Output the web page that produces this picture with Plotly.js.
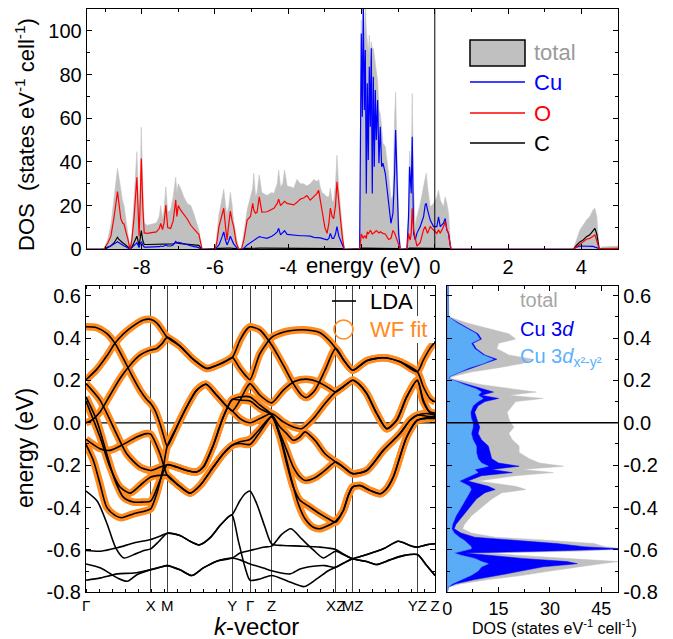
<!DOCTYPE html>
<html><head><meta charset="utf-8">
<script src="https://cdn.plot.ly/plotly-3.0.1.min.js"></script>
<style>html,body{margin:0;padding:0;background:#fff}#plot{width:673px;height:639px}</style>
</head><body><div id="plot"></div>
<script>
const FONT = 'Liberation Sans, Arial, Helvetica, sans-serif';
const ORANGE = '#ff8a1e';

// ---------- Top panel: DOS vs energy (eV), states eV^-1 cell^-1 ----------
const eC1 = [-9.5,-9.03,-8.92,-8.84,-8.75,-8.70,-8.66,-8.62,-8.57,-8.52,-8.48,-8.43,-8.38,-8.32,-8.27,-8.21,-8.16,-8.13,-8.10,-8.07,-8.04,-8.01,-7.97,-7.93,-7.85,-7.72,-7.60,-7.52,-7.48,-7.43,-7.39,-7.34,-7.29,-7.21,-7.14,-7.07,-7.04,-7.00,-6.94,-6.85,-6.76,-6.66,-6.57,-6.48,-6.44,-6.35];
const totC1 = [0,0,5,11,24,33,37,33,27,22,20,14,8,0,6,22,40,44.7,30,9,32,55.8,30,12,11,11.5,12,15,20,14,18,28.5,17,18,24,33,26,30,28,24,21,20,16,11,9,0];
const cuC1 = [0,0,0.8,1.5,2.5,3,3.5,3,2.5,2,1.5,1.2,0.8,0,0.8,1.5,2.5,3,2,0.8,2.5,3.5,2,1,1,1,1,1.2,1.5,1.3,1.5,2,1.5,1.5,2,3.6,3,3.2,3,2.5,2,1.5,1.2,1,0.8,0];
const oC1 = [0,0,3,6,15,22,26.4,21,14,12,11.5,8,5,0,4,14,28,33,20,6,22,41.6,20,7.5,7.3,7.5,8,9.5,11.8,9,12,20.3,10,9.5,13,22.6,15,20,18,16,14,11,9,7.5,7,0];
const cC1 = [0,0,1,1.5,3,4.5,5.5,4.5,3.5,3,2.5,2,1.2,0,1,3,5,6,4,1.5,5,8.6,4,2.2,2.2,2.2,2.3,2.3,2.3,2.3,2.3,2.5,2.3,2.3,2.5,3,2.8,2.8,2.6,2.5,2.4,2.3,2.2,2,1.8,0];

const eC2 = [-6.00,-5.95,-5.89,-5.82,-5.76,-5.71,-5.67,-5.62,-5.58,-5.53,-5.49,-5.42,-5.35,-5.28,-5.21,-5.12,-5.03,-4.97,-4.94,-4.89,-4.85,-4.79,-4.72,-4.58,-4.45,-4.39,-4.30,-4.26,-4.21,-4.15,-4.10,-4.03,-3.94,-3.85,-3.76,-3.67,-3.58,-3.49,-3.40,-3.30,-3.22,-3.17,-3.12,-3.08,-3.00,-2.94,-2.89,-2.85,-2.80,-2.76,-2.71,-2.67,-2.62,-2.58,-2.52,-2.47];
const totC2 = [0,6,16,22,27.5,20,16,20,26,20,13,6,0,0,9,18,24,28,34.8,24,26,34,26,24.6,26,25.6,30,36.3,28.6,30,36.3,29,28.6,28,32,30,30,29,30,32,31,32,28,26,25,24,24,28,22,22,30,43,28,20,8,0];
const cuC2 = [0,1,2,5,8,4,2,4,6,4,2.5,1,0,0,0.5,2,3,4,4.3,4.5,5,5.8,5.5,5,6,6.6,8,9.6,6.6,7.5,8.5,6.8,6.6,6.6,6.5,6.2,6.2,6.2,6,5.5,5.5,5.5,5.2,5,4.7,4.3,5,7.3,5,5,7,10.4,6,4.3,1.5,0];
const oC2 = [0,3,10.4,15,18.8,10,4.3,12,17.5,13,10.4,3,0,0,4.3,13.4,15,21,18,16.5,17,24,17,17.2,18.5,18.8,21,23,20,21,22,21,20.5,20.3,21.5,23,23.5,24.6,22.5,24,25.5,27,22,18,10,7.3,12,18.9,14.9,14,20,30.9,20,14.9,5,0];
const cC2 = [0,0.3,0.4,0.5,0.5,0.5,0.5,0.5,0.5,0.5, 0.4,0.3,0,0,0.3,0.4,0.5,0.5,0.5,0.5, 0.5,0.5,0.5,0.5,0.5,0.5,0.5,0.5,0.5,0.5, 0.5,0.5,0.5,0.5,0.5,0.5,0.5,0.5,0.5,0.5, 0.5,0.5,0.5,0.5,0.5,0.5,0.5,0.5,0.5,0.5, 0.5,0.5,0.5,0.4,0.3,0];

const eC3 = [-2.051,-2.033,-2.006,-1.978,-1.951,-1.924,-1.896,-1.869,-1.842,-1.815,-1.787,-1.760,-1.733,-1.706,-1.678,-1.651,-1.624,-1.597,-1.560,-1.524,-1.488,-1.451,-1.415,-1.351,-1.260,-1.197,-1.142,-1.097,-1.069,-1.033,-0.988,-0.942];
const totC3 = [0,55,105,75,118,80,112,100,95,90,98,85,95,92,92,89,85,83,77,64,62,56,48.5,47,34.8,22.6,25,60,72,45,15,0];
const cuC3 = [0,45.4,98.8,60.7,115,63.8,91.2,25.6,76,40.9,83.6,56.1,92,25.6,79,37.8,72.9,50,68.3,39.4,56.1,37.8,39.4,34.8,22.6,11.9,16.5,34.8,54.6,37.8,7.3,0];
const oC3 = [0,4.3,7,6,5,6,6,5,8,7,8,8.6,8,7,7.3,7.5,8,8.6,8,7.5,8,7.5,7.3,7,4.5,5,8.6,7.5,6,5,2,0];
const cC3 = [0,0.3,0.5,0.5,0.5,0.5,0.5,0.5,0.5,0.5, 0.5,0.5,0.5,0.5,0.5,0.5,0.5,0.5,0.5,0.5, 0.5,0.5,0.5,0.5,0.5,0.5,0.5,0.5,0.5,0.5, 0.3,0];

const eC4 = [-0.760,-0.716,-0.689,-0.670,-0.643,-0.616,-0.579,-0.534,-0.489,-0.398,-0.352,-0.307,-0.262,-0.234,-0.198,-0.125,-0.034,0.057,0.102,0.148,0.239,0.284,0.330,0.375,0.420,0.447];
const totC4 = [0,19.5,45,42,34.8,71.4,28.6,10.4,14.9,21,25,28.6,31.6,34.8,28.6,19.5,21,24,27,22.6,19.5,24,21,16.5,5,0];
const cuC4 = [0,14.9,37.8,33.2,25.6,51.5,7.3,4.3,7.3,10.4,13,14.9,20.3,21,18,13.4,10.4,10.4,14.9,10.4,12,14.1,8.8,7.3,2,0];
const oC4 = [0,7.3,5,4.3,7.3,18.8,9,4.3,1.5,3,6,9,10.4,9,7.3,10.4,9,7.3,9,7.3,10.4,12.7,9,7.3,2,0];
const cC4 = [0,0.3,0.5,0.5,0.5,0.5,0.5,0.5,0.5,0.5, 0.5,0.5,0.5,0.5,0.5,0.5,0.5,0.5,0.5,0.5, 0.5,0.5,0.5,0.5,0.3,0];

const eC5 = [3.78,3.87,3.96,4.05,4.14,4.23,4.32,4.37,4.42,4.49,4.55,5.0];
const totC5 = [0,4.3,8.8,11.1,13.4,15,18,18.8,15,0,1,1.5];
const cuC5 = [0,1,1.5,1.5,1.5,1.5,1.3,1,0.8,0,0.1,0.1];
const oC5 = [0,1.3,2.3,3.4,4.6,5,6.1,6.6,4,0,0.3,0.4];
const cC5 = [0,1.9,3.4,4.3,5.8,6.6,8.9,9.6,7,0,0.2,0.3];

const energyTop = [].concat(eC1,eC2,eC3,eC4,eC5);
const dosTotal = [].concat(totC1,totC2,totC3,totC4,totC5);
const dosCu = [].concat(cuC1,cuC2,cuC3,cuC4,cuC5);
const dosO = [].concat(oC1,oC2,oC3,oC4,oC5);
const dosC = [].concat(cC1,cC2,cC3,cC4,cC5);

const topXTicks = [-8,-6,-4,-2,0,2,4];
const topXLabels = ['-8','-6','-4','','0','2','4'];
const topYTicks = [0,20,40,60,80,100];
const topYLabels = ['0','20','40','60','80','100'];

// ---------- Band structure: [k, energy (eV)] ----------
const kPoints = [0,0.647,0.813,1.463,1.64,1.857,2.497,2.667,3.313,3.49];
const kLabels = ['Γ','X','M','Y','Γ','Z','XZ','MZ','YZ','Z'];
const eTicks = [-0.8,-0.6,-0.4,-0.2,0,0.2,0.4,0.6];
const eLabels = ['-0.8','-0.6','-0.4','-0.2','0.0','0.2','0.4','0.6'];

const wf1 = [[0,0.453],[0.107,0.449],[0.207,0.422],[0.29,0.375],[0.373,0.304],[0.457,0.225],[0.54,0.154],[0.607,0.110],[0.647,0.091],[0.69,0.059],[0.74,-0.004],[0.78,-0.067],[0.813,-0.110],[0.907,-0.020],[1.007,0.075],[1.107,0.154],[1.2,0.182],[1.307,0.130],[1.407,0.078],[1.463,0.056],[1.54,0.020],[1.64,0.0],[1.74,0.020],[1.857,0.044],[1.973,0.004],[2.073,-0.020],[2.157,-0.028],[2.273,0.020],[2.39,0.091],[2.497,0.146],[2.573,0.170],[2.667,0.201],[2.74,0.178],[2.807,0.138],[2.907,0.044],[3.007,-0.028],[3.107,0.012],[3.207,0.122],[3.313,0.201],[3.373,0.107],[3.44,0.047],[3.49,0.039]];
const wf2 = [[0,0.203],[0.107,0.252],[0.207,0.315],[0.29,0.375],[0.373,0.419],[0.473,0.457],[0.573,0.485],[0.647,0.488],[0.707,0.472],[0.757,0.441],[0.813,0.403],[0.94,0.362],[1.073,0.299],[1.207,0.256],[1.307,0.271],[1.407,0.293],[1.463,0.308],[1.54,0.390],[1.607,0.441],[1.64,0.453],[1.74,0.438],[1.857,0.367],[1.973,0.272],[2.073,0.185],[2.157,0.130],[2.207,0.119],[2.29,0.154],[2.39,0.248],[2.497,0.351],[2.573,0.299],[2.667,0.248],[2.807,0.293],[2.973,0.307],[3.14,0.288],[3.313,0.241],[3.373,0.296],[3.44,0.351],[3.49,0.382]];
const wf3 = [[0,0.0],[0.057,0.012],[0.14,0.051],[0.24,0.130],[0.34,0.209],[0.44,0.272],[0.54,0.319],[0.647,0.343],[0.707,0.351],[0.757,0.371],[0.813,0.403],[0.94,0.362],[1.073,0.299],[1.207,0.256],[1.307,0.271],[1.407,0.293],[1.463,0.308],[1.54,0.256],[1.607,0.217],[1.64,0.203],[1.74,0.327],[1.857,0.403],[1.94,0.422],[2.04,0.434],[2.207,0.438],[2.34,0.425],[2.423,0.393],[2.497,0.351],[2.573,0.299],[2.667,0.248],[2.807,0.293],[2.973,0.307],[3.14,0.288],[3.313,0.241],[3.373,0.170],[3.44,0.114],[3.49,0.099]];
const wf4 = [[0,0.185],[0.14,0.107],[0.273,-0.020],[0.407,-0.146],[0.54,-0.209],[0.647,-0.225],[0.74,-0.209],[0.813,-0.198],[0.907,-0.209],[1.007,-0.225],[1.107,-0.232],[1.173,-0.209],[1.273,-0.106],[1.373,0.028],[1.463,0.110],[1.54,0.122],[1.64,0.122],[1.74,0.083],[1.857,0.040],[1.94,-0.020],[2.007,-0.051],[2.073,-0.083],[2.14,-0.067],[2.19,-0.043],[2.29,-0.083],[2.39,-0.146],[2.497,-0.185],[2.573,-0.209],[2.667,-0.240],[2.807,-0.225],[2.973,-0.130],[3.14,-0.051],[3.24,0.012],[3.313,0.036],[3.407,0.044],[3.49,0.036]];
const wf5 = [[0,0.122],[0.107,0.012],[0.207,-0.146],[0.29,-0.272],[0.373,-0.351],[0.473,-0.374],[0.573,-0.374],[0.647,-0.370],[0.74,-0.272],[0.813,-0.198],[0.907,-0.209],[1.007,-0.225],[1.107,-0.232],[1.173,-0.209],[1.273,-0.106],[1.373,0.028],[1.463,0.110],[1.54,0.107],[1.64,0.103],[1.74,0.067],[1.857,0.036],[1.94,-0.051],[2.007,-0.130],[2.073,-0.209],[2.14,-0.256],[2.19,-0.272],[2.29,-0.259],[2.39,-0.225],[2.497,-0.185],[2.573,-0.209],[2.667,-0.240],[2.807,-0.225],[2.973,-0.130],[3.14,-0.051],[3.24,0.012],[3.313,0.036],[3.407,0.031],[3.49,0.028]];
const wf6 = [[0,0.103],[0.14,-0.067],[0.24,-0.209],[0.34,-0.303],[0.44,-0.332],[0.54,-0.296],[0.647,-0.256],[0.74,-0.248],[0.813,-0.248],[0.907,-0.288],[1.04,-0.332],[1.14,-0.296],[1.273,-0.209],[1.373,-0.146],[1.463,-0.106],[1.54,-0.090],[1.64,-0.078],[1.74,-0.028],[1.857,0.031],[1.923,-0.035],[1.99,-0.146],[2.057,-0.272],[2.123,-0.382],[2.19,-0.453],[2.273,-0.493],[2.34,-0.500],[2.423,-0.485],[2.497,-0.464],[2.573,-0.414],[2.623,-0.343],[2.667,-0.303],[2.74,-0.296],[2.84,-0.319],[2.94,-0.335],[3.007,-0.311],[3.073,-0.256],[3.207,-0.067],[3.313,0.012],[3.407,0.024],[3.49,0.024]];
const wf7 = [[0,-0.078],[0.14,-0.122],[0.24,-0.130],[0.373,-0.102],[0.507,-0.067],[0.607,-0.051],[0.647,-0.054],[0.74,-0.146],[0.813,-0.248],[0.907,-0.288],[1.04,-0.332],[1.14,-0.296],[1.273,-0.209],[1.373,-0.146],[1.463,-0.106],[1.54,-0.098],[1.64,-0.102],[1.74,-0.043],[1.857,0.028],[1.94,-0.067],[2.007,-0.193],[2.073,-0.303],[2.14,-0.366],[2.24,-0.398],[2.34,-0.430],[2.423,-0.453],[2.497,-0.469],[2.573,-0.414],[2.623,-0.343],[2.667,-0.303],[2.74,-0.296],[2.84,-0.319],[2.94,-0.335],[3.007,-0.311],[3.073,-0.256],[3.207,-0.067],[3.313,0.012],[3.407,0.020],[3.49,0.020]];
const wf8 = [[0,-0.102],[0.073,-0.177],[0.14,-0.288],[0.207,-0.398],[0.29,-0.437],[0.357,-0.448],[0.473,-0.430],[0.607,-0.414],[0.647,-0.406],[0.707,-0.335],[0.773,-0.209],[0.813,-0.110],[0.907,-0.020],[1.007,0.075],[1.107,0.154],[1.2,0.182],[1.307,0.130],[1.407,0.078],[1.463,0.056],[1.54,0.107],[1.607,0.166],[1.64,0.185],[1.74,0.130],[1.857,0.094],[1.973,0.154],[2.09,0.196],[2.207,0.206],[2.323,0.193],[2.423,0.166],[2.497,0.146],[2.573,0.170],[2.667,0.201],[2.74,0.178],[2.807,0.138],[2.907,0.044],[3.007,-0.028],[3.107,0.012],[3.207,0.122],[3.313,0.201],[3.373,0.099],[3.44,0.051],[3.49,0.046]];

const ldaA = [[0,-0.322],[0.113,-0.370],[0.213,-0.480],[0.297,-0.590],[0.38,-0.638],[0.48,-0.622],[0.58,-0.603],[0.647,-0.595],[0.73,-0.559],[0.813,-0.521],[0.94,-0.532],[1.04,-0.559],[1.133,-0.576],[1.24,-0.543],[1.34,-0.485],[1.44,-0.438],[1.463,-0.433],[1.54,-0.367],[1.59,-0.335],[1.64,-0.322],[1.707,-0.382],[1.79,-0.493],[1.857,-0.571],[1.973,-0.579],[2.14,-0.582],[2.34,-0.587],[2.497,-0.598],[2.573,-0.619],[2.667,-0.642],[2.807,-0.655],[2.907,-0.669],[3.04,-0.647],[3.173,-0.627],[3.313,-0.622],[3.407,-0.674],[3.49,-0.721]];
const ldaB = [[0,-0.603],[0.147,-0.606],[0.313,-0.590],[0.48,-0.567],[0.647,-0.551],[0.73,-0.537],[0.813,-0.521],[0.94,-0.532],[1.04,-0.559],[1.133,-0.576],[1.24,-0.543],[1.34,-0.485],[1.44,-0.438],[1.463,-0.437],[1.523,-0.556],[1.59,-0.682],[1.64,-0.743],[1.74,-0.737],[1.857,-0.721],[2.007,-0.745],[2.183,-0.773],[2.307,-0.737],[2.423,-0.698],[2.497,-0.682],[2.573,-0.663],[2.667,-0.642],[2.807,-0.622],[2.973,-0.595],[3.123,-0.559],[3.24,-0.579],[3.313,-0.587],[3.407,-0.576],[3.49,-0.571]];
const ldaC = [[0,-0.666],[0.147,-0.685],[0.313,-0.732],[0.413,-0.748],[0.513,-0.716],[0.647,-0.693],[0.74,-0.682],[0.813,-0.674],[0.94,-0.694],[1.057,-0.721],[1.173,-0.685],[1.307,-0.653],[1.463,-0.638],[1.54,-0.615],[1.64,-0.603],[1.773,-0.587],[1.857,-0.582],[1.957,-0.527],[2.05,-0.500],[2.157,-0.548],[2.273,-0.600],[2.373,-0.638],[2.497,-0.606],[2.573,-0.622],[2.667,-0.642],[2.807,-0.655],[2.907,-0.669],[3.04,-0.647],[3.173,-0.627],[3.313,-0.622],[3.407,-0.674],[3.49,-0.721]];
const ldaD = [[0,-0.743],[0.147,-0.732],[0.313,-0.713],[0.48,-0.709],[0.647,-0.693],[0.74,-0.682],[0.813,-0.674],[0.94,-0.694],[1.057,-0.721],[1.173,-0.685],[1.307,-0.653],[1.463,-0.638],[1.54,-0.647],[1.64,-0.666],[1.773,-0.685],[1.857,-0.698],[2.04,-0.713],[2.14,-0.690],[2.273,-0.677],[2.39,-0.674],[2.497,-0.682],[2.573,-0.663],[2.667,-0.642],[2.807,-0.622],[2.973,-0.595],[3.123,-0.559],[3.24,-0.579],[3.313,-0.587],[3.407,-0.576],[3.49,-0.571]];

// ---------- Right panel: projected DOS vs energy ----------
const dosE = [0.65,0.50,0.47,0.44,0.42,0.395,0.375,0.35,0.32,0.30,0.28,0.26,0.24,0.22,0.21,0.20,0.18,0.16,0.145,0.13,0.115,0.10,0.08,0.05,0.02,0.0,-0.02,-0.05,-0.08,-0.11,-0.14,-0.17,-0.19,-0.205,-0.22,-0.235,-0.25,-0.275,-0.30,-0.315,-0.33,-0.36,-0.40,-0.44,-0.48,-0.50,-0.52,-0.54,-0.555,-0.57,-0.585,-0.595,-0.605,-0.615,-0.625,-0.64,-0.655,-0.665,-0.68,-0.70,-0.72,-0.74,-0.76,-0.775,-0.80];
const pdosTotal = [0.3,0.5,6,13,18,20,15,14.5,18,25,22,15,7,2,0.5,4,10,19,26,18,28,20,19,17.5,18,18.5,19.5,18,19,21,21,24,27,34,22,31,20,9,20,23,16,13,10,7,5,4.5,7,14,30,43,46,52,40,12,20,35,50,45,38,30,22,12,4,0.5,0];
const pdosCu3d = [0.3,0.3,3.5,7,9,10,7.5,8.5,11,14.5,11,7,4,1,0.3,2,6,10,13.5,10,15,11,9,8,8.5,9,9.5,9,10,12,12.5,13,15,21,13,19,10,6,12,14,11,8.5,6.5,4.5,2.5,2,4,8,20,32,40,51,30,5,12,22,35,38,28,22,15,8,2.5,0.3,0];
const pdosDx2y2 = [0.3,0.3,3,6.5,8.5,9.5,7,8,10.5,13.5,10.5,6.5,3.5,0.8,0.3,1.8,5,8.5,10,9,10.5,9,7.5,6.8,7,7.5,7.5,7,7.5,8.5,8.5,9,10,12,8,9,7,3.5,6.5,7,6.5,5.5,4,2.5,1.5,1.3,2,3.5,5,6,7,7,4,2,4,8,10,12,10,9,7,4,1.5,0.3,0];
const dosXTicks = [0,15,30,45];
const dosXLabels = ['0','15','30','45'];

// ---------- build traces ----------
const traces = [];
traces.push({x:energyTop,y:dosTotal,mode:'lines',fill:'tozeroy',fillcolor:'#c0c0c0',line:{color:'#c4c4c4',width:0.6},xaxis:'x',yaxis:'y'});
traces.push({x:energyTop,y:dosC,mode:'lines',line:{color:'#000000',width:1.2},xaxis:'x',yaxis:'y'});
traces.push({x:energyTop,y:dosCu,mode:'lines',line:{color:'#0000ff',width:1.2},xaxis:'x',yaxis:'y'});
traces.push({x:energyTop,y:dosO,mode:'lines',line:{color:'#ff0000',width:1.2},xaxis:'x',yaxis:'y'});

const wfBands = [wf1,wf2,wf3,wf4,wf5,wf6,wf7,wf8];
const ldaOnly = [ldaA,ldaB,ldaC,ldaD];
wfBands.forEach(b => traces.push({x:b.map(p=>p[0]),y:b.map(p=>p[1]),mode:'lines',line:{color:ORANGE,width:7.5,shape:'spline',smoothing:0.7},xaxis:'x2',yaxis:'y2'}));
wfBands.concat(ldaOnly).forEach(b => traces.push({x:b.map(p=>p[0]),y:b.map(p=>p[1]),mode:'lines',line:{color:'#000000',width:1.6,shape:'spline',smoothing:0.7},xaxis:'x2',yaxis:'y2'}));

traces.push({x:pdosTotal,y:dosE,mode:'lines',fill:'tozerox',fillcolor:'#c0c0c0',line:{color:'#c0c0c0',width:0.5},xaxis:'x3',yaxis:'y3'});
traces.push({x:pdosCu3d,y:dosE,mode:'lines',fill:'tozerox',fillcolor:'#0000ff',line:{color:'#0000ff',width:0.5},xaxis:'x3',yaxis:'y3'});
traces.push({x:pdosDx2y2,y:dosE,mode:'lines',fill:'tozerox',fillcolor:'#5aacf6',line:{color:'#5aacf6',width:0.5},xaxis:'x3',yaxis:'y3'});

// ---------- layout ----------
const W = 673, H = 639;
const px = v => v / W, py = v => 1 - v / H;
const axBase = {showline:true,linecolor:'#000',linewidth:1,mirror:'ticks',ticks:'inside',ticklen:5,tickwidth:1,tickcolor:'#000',
  showgrid:false,zeroline:false,tickfont:{family:FONT,size:20,color:'#000'},fixedrange:true,tickangle:0};

const layout = {
  width:W,height:H,margin:{l:0,r:0,t:0,b:0},paper_bgcolor:'#fff',plot_bgcolor:'rgba(0,0,0,0)',
  showlegend:false,font:{family:FONT,color:'#000'},
  xaxis:Object.assign({},axBase,{domain:[px(86.7),px(618)],range:[-9.5,5],anchor:'y',tickmode:'array',tickvals:topXTicks,ticktext:topXLabels,
    minor:{tickmode:'linear',tick0:-9,dtick:1,ticks:'inside',ticklen:3,tickcolor:'#000'}}),
  yaxis:Object.assign({},axBase,{domain:[py(249.3),py(9)],range:[0,110],anchor:'x',tickmode:'array',tickvals:topYTicks,ticktext:topYLabels,
    minor:{tickmode:'linear',tick0:0,dtick:10,ticks:'inside',ticklen:3,tickcolor:'#000'}}),
  xaxis2:Object.assign({},axBase,{domain:[px(86),px(435)],range:[0,3.49],anchor:'y2',tickmode:'array',tickvals:kPoints,ticktext:kLabels,
    ticks:'',showgrid:true,gridcolor:'#404040',gridwidth:1,tickfont:{family:FONT,size:15,color:'#000'},tickangle:0,
    minor:{tickmode:'linear',tick0:0,dtick:0.13,ticks:'inside',ticklen:3,tickcolor:'#000'}}),
  yaxis2:Object.assign({},axBase,{domain:[py(592.3),py(285.7)],range:[-0.8,0.647],anchor:'x2',tickmode:'array',tickvals:eTicks,ticktext:eLabels,
    minor:{tickmode:'linear',tick0:0,dtick:0.1,ticks:'inside',ticklen:3,tickcolor:'#000'}}),
  xaxis3:Object.assign({},axBase,{domain:[px(447.3),px(618.3)],range:[0,50],anchor:'y3',tickmode:'array',tickvals:dosXTicks,ticktext:dosXLabels,
    tickfont:{family:FONT,size:18,color:'#000'},
    minor:{tickmode:'linear',tick0:0,dtick:7.5,ticks:'inside',ticklen:3,tickcolor:'#000'}}),
  yaxis3:Object.assign({},axBase,{domain:[py(592.3),py(285.7)],range:[-0.8,0.647],anchor:'x3',side:'right',tickmode:'array',tickvals:eTicks,ticktext:eLabels,
    minor:{tickmode:'linear',tick0:0,dtick:0.1,ticks:'inside',ticklen:3,tickcolor:'#000'}}),
  shapes:[
    {type:'line',xref:'x',yref:'y domain',x0:0,x1:0,y0:0,y1:1,line:{color:'#000',width:1},layer:'above'},
    {type:'line',xref:'x2 domain',yref:'y2',x0:0,x1:1,y0:0,y1:0,line:{color:'#000',width:1.2},layer:'below'},
    {type:'line',xref:'x3 domain',yref:'y3',x0:0,x1:1,y0:0,y1:0,line:{color:'#000',width:1.5},layer:'above'},
    // top legend
    {type:'rect',xref:'paper',yref:'paper',x0:px(470),x1:px(525),y0:py(66),y1:py(40),fillcolor:'#c0c0c0',line:{color:'#000',width:1.5}},
    {type:'line',xref:'paper',yref:'paper',x0:px(470),x1:px(525),y0:py(82),y1:py(82),line:{color:'#0000ff',width:1.3}},
    {type:'line',xref:'paper',yref:'paper',x0:px(470),x1:px(525),y0:py(113),y1:py(113),line:{color:'#ff0000',width:1.3}},
    {type:'line',xref:'paper',yref:'paper',x0:px(470),x1:px(525),y0:py(143),y1:py(143),line:{color:'#000',width:1.3}},
    // band legend
    {type:'rect',xref:'paper',yref:'paper',x0:px(362),x1:px(434),y0:py(343),y1:py(316),fillcolor:'#fff',line:{width:0},layer:'above'},
    {type:'line',xref:'paper',yref:'paper',x0:px(332),x1:px(356),y0:py(301),y1:py(301),line:{color:'#000',width:1.6},layer:'above'},
    {type:'circle',xref:'paper',yref:'paper',x0:px(334),x1:px(353),y0:py(339),y1:py(320),line:{color:ORANGE,width:1.6},layer:'above'}
  ],
  annotations:[
    {xref:'paper',yref:'paper',x:px(25),y:py(135),text:'DOS  (states eV<sup>-1</sup> cell<sup>-1</sup>)',textangle:-90,showarrow:false,font:{size:22,family:FONT,color:'#000'},xanchor:'center',yanchor:'middle'},
    {xref:'paper',yref:'paper',x:px(363),y:py(265),text:'energy (eV)',showarrow:false,font:{size:22,family:FONT,color:'#000'},xanchor:'center',yanchor:'middle'},
    {xref:'paper',yref:'paper',x:px(532),y:py(53),text:'total',showarrow:false,font:{size:22,family:FONT,color:'#9a9a9a'},xanchor:'left',yanchor:'middle'},
    {xref:'paper',yref:'paper',x:px(532),y:py(83),text:'Cu',showarrow:false,font:{size:22,family:FONT,color:'#0000ff'},xanchor:'left',yanchor:'middle'},
    {xref:'paper',yref:'paper',x:px(532),y:py(113),text:'O',showarrow:false,font:{size:22,family:FONT,color:'#ff0000'},xanchor:'left',yanchor:'middle'},
    {xref:'paper',yref:'paper',x:px(532),y:py(143),text:'C',showarrow:false,font:{size:22,family:FONT,color:'#000'},xanchor:'left',yanchor:'middle'},
    {xref:'paper',yref:'paper',x:px(25),y:py(448),text:'energy (eV)',textangle:-90,showarrow:false,font:{size:23,family:FONT,color:'#000'},xanchor:'center',yanchor:'middle'},
    {xref:'paper',yref:'paper',x:px(256),y:py(626),text:'<i>k</i>-vector',showarrow:false,font:{size:24,family:FONT,color:'#000'},xanchor:'center',yanchor:'middle'},
    {xref:'paper',yref:'paper',x:px(368),y:py(301),text:'LDA',showarrow:false,font:{size:22,family:FONT,color:'#000'},xanchor:'left',yanchor:'middle'},
    {xref:'paper',yref:'paper',x:px(368),y:py(329),text:'WF fit',showarrow:false,font:{size:22,family:FONT,color:ORANGE},xanchor:'left',yanchor:'middle'},
    {xref:'paper',yref:'paper',x:px(518),y:py(300),text:'total',showarrow:false,font:{size:20,family:FONT,color:'#a6a6a6'},xanchor:'left',yanchor:'middle'},
    {xref:'paper',yref:'paper',x:px(518),y:py(329),text:'Cu 3<i>d</i>',showarrow:false,font:{size:20,family:FONT,color:'#0000ee'},xanchor:'left',yanchor:'middle'},
    {xref:'paper',yref:'paper',x:px(518),y:py(357),text:'Cu 3<i>d</i><sub>x²-y²</sub>',showarrow:false,font:{size:20,family:FONT,color:'#5ab0ff'},xanchor:'left',yanchor:'middle'},
    {xref:'paper',yref:'paper',x:px(554),y:py(627),text:'DOS (states eV<sup>-1</sup> cell<sup>-1</sup>)',showarrow:false,font:{size:16,family:FONT,color:'#000'},xanchor:'center',yanchor:'middle'}
  ]
};

Plotly.newPlot('plot', traces, layout, {displayModeBar:false, staticPlot:true});
</script></body></html>
